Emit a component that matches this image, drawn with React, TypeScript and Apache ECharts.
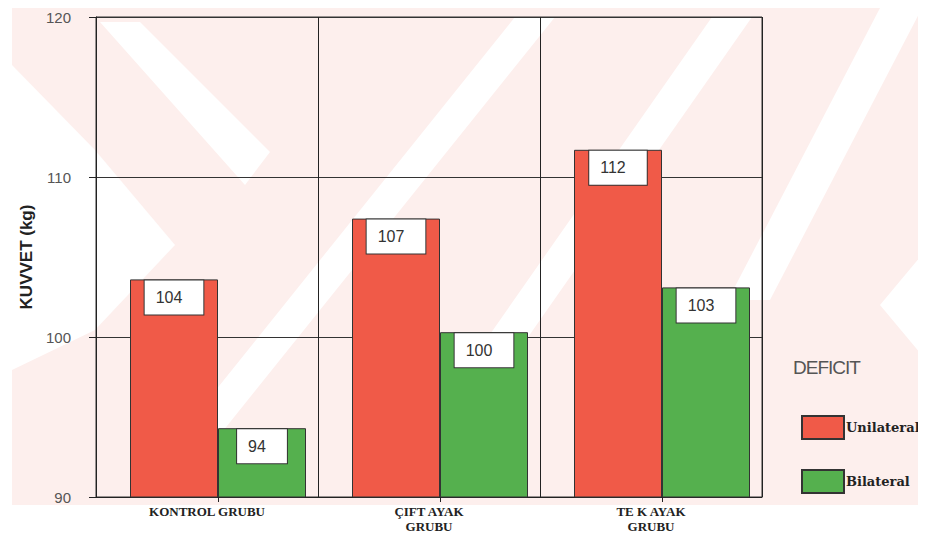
import React, { useEffect, useRef } from "react";
import * as echarts from "echarts";

const categories = ["KONTROL GRUBU", "ÇIFT AYAK\nGRUBU", "TE K AYAK\nGRUBU"];
const unilateral = [103.6, 107.4, 111.7];
const bilateral = [94.3, 100.3, 103.1];
const yTicks = [90, 100, 110, 120];
const seriesNames = ["Unilateral", "Bilateral"];

const PINK = "#fdefed";
const WHITE = "#ffffff";

function poly(points: number[][], fill: string) {
  return { type: "polygon", z: -10, silent: true, shape: { points }, style: { fill } };
}

export default function App() {
  const ref = useRef<HTMLDivElement>(null);
  useEffect(() => {
    if (!ref.current) return;
    const chart = echarts.init(ref.current, null, { renderer: "svg" });
    const labelCfg = {
      show: true,
      position: "insideTop",
      distance: 1,
      formatter: (p: any) => String(Math.round(p.value)),
      backgroundColor: "#ffffff",
      borderColor: "#333",
      borderWidth: 1,
      padding: [9, 21, 9, 11],
      fontSize: 16,
      lineHeight: 16,
      color: "#333",
      fontFamily: "Liberation Sans",
    };
    chart.setOption({
      animation: false,
      backgroundColor: "#ffffff",
      graphic: [
        { type: "rect", z: -11, silent: true, shape: { x: 12, y: 8, width: 914, height: 497 }, style: { fill: PINK } },
        poly([[12, 65], [12, 370], [95, 330], [175, 245], [95, 150]], WHITE),
        poly([[100, 22], [140, 22], [270, 152], [245, 185]], WHITE),
        poly([[515, 17], [555, 17], [170, 497], [130, 497]], WHITE),
        poly([[712, 17], [752, 17], [470, 420], [430, 420]], WHITE),
        poly([[880, 8], [922, 8], [770, 300], [728, 300]], WHITE),
        poly([[926, 250], [926, 360], [880, 305]], WHITE),
      ],
      grid: [
        {
          left: 96,
          right: 164,
          top: 17,
          bottom: 45,
          show: true,
          borderColor: "#333",
          borderWidth: 1,
          backgroundColor: "transparent",
        },
        { left: 107, right: 153, top: 17, bottom: 45 },
      ],
      legend: {
        data: seriesNames,
        orient: "vertical",
        left: 801,
        top: 415,
        itemWidth: 42,
        itemHeight: 23,
        itemGap: 29,
        icon: "rect",
        padding: 0,
        textStyle: {
          fontFamily: "DejaVu Serif",
          fontWeight: "bold",
          fontSize: 13,
          color: "#222",
          padding: [0, 0, 0, -3],
        },
      },
      xAxis: [
        {
          type: "category",
          gridIndex: 0,
          data: categories,
          boundaryGap: true,
          axisLine: { lineStyle: { color: "#222", width: 1 } },
          axisTick: { show: false },
          splitLine: { show: true, lineStyle: { color: "#222", width: 1 } },
          axisLabel: {
            fontFamily: "Liberation Serif",
            fontWeight: "bold",
            fontSize: 13,
            color: "#222",
            lineHeight: 15,
            margin: 7,
          },
        },
        {
          type: "category",
          gridIndex: 1,
          data: categories,
          boundaryGap: true,
          axisLine: { show: false },
          axisTick: { show: true, alignWithLabel: true, length: 5, lineStyle: { color: "#222" } },
          splitLine: { show: false },
          axisLabel: { show: false },
        },
      ],
      yAxis: [
        {
          type: "value",
          gridIndex: 0,
          min: 90,
          max: 120,
          interval: 10,
          name: "KUVVET (kg)",
          nameLocation: "middle",
          nameGap: 56,
          nameRotate: 90,
          nameTextStyle: {
            fontFamily: "Liberation Sans",
            fontWeight: "bold",
            fontSize: 17,
            color: "#222",
          },
          axisLine: { show: true, lineStyle: { color: "#222", width: 1 } },
          axisTick: { show: true, length: 7, lineStyle: { color: "#222" } },
          splitLine: { show: true, lineStyle: { color: "#333", width: 1 } },
          axisLabel: {
            fontFamily: "Liberation Sans",
            fontSize: 15,
            color: "#555",
            margin: 25,
            formatter: (v: number) => (yTicks.includes(v) ? String(v) : ""),
          },
        },
        {
          type: "value",
          gridIndex: 1,
          min: 90,
          max: 120,
          interval: 10,
          axisLine: { show: false },
          axisTick: { show: false },
          splitLine: { show: false },
          axisLabel: { show: false },
        },
      ],
      series: [
        {
          name: seriesNames[0],
          type: "bar",
          xAxisIndex: 1,
          yAxisIndex: 1,
          data: unilateral,
          barWidth: 88,
          barGap: "0%",
          itemStyle: { color: "#f05a48", borderColor: "#333", borderWidth: 1 },
          label: labelCfg,
        },
        {
          name: seriesNames[1],
          type: "bar",
          xAxisIndex: 1,
          yAxisIndex: 1,
          data: bilateral,
          barWidth: 88,
          barGap: "0%",
          itemStyle: { color: "#55b04e", borderColor: "#333", borderWidth: 1 },
          label: labelCfg,
        },
      ],
    });
    return () => chart.dispose();
  }, []);
  return (
    <div style={{ position: "relative", width: 910, height: 526 }}>
      <div ref={ref} style={{ position: "absolute", left: -8, top: -8, width: 926, height: 542 }} />
      <div
        style={{
          position: "absolute",
          left: 785,
          top: 349,
          fontFamily: "Liberation Sans",
          fontSize: 19,
          color: "#555",
          letterSpacing: -1,
          pointerEvents: "none",
        }}
      >
        DEFICIT
      </div>
    </div>
  );
}
